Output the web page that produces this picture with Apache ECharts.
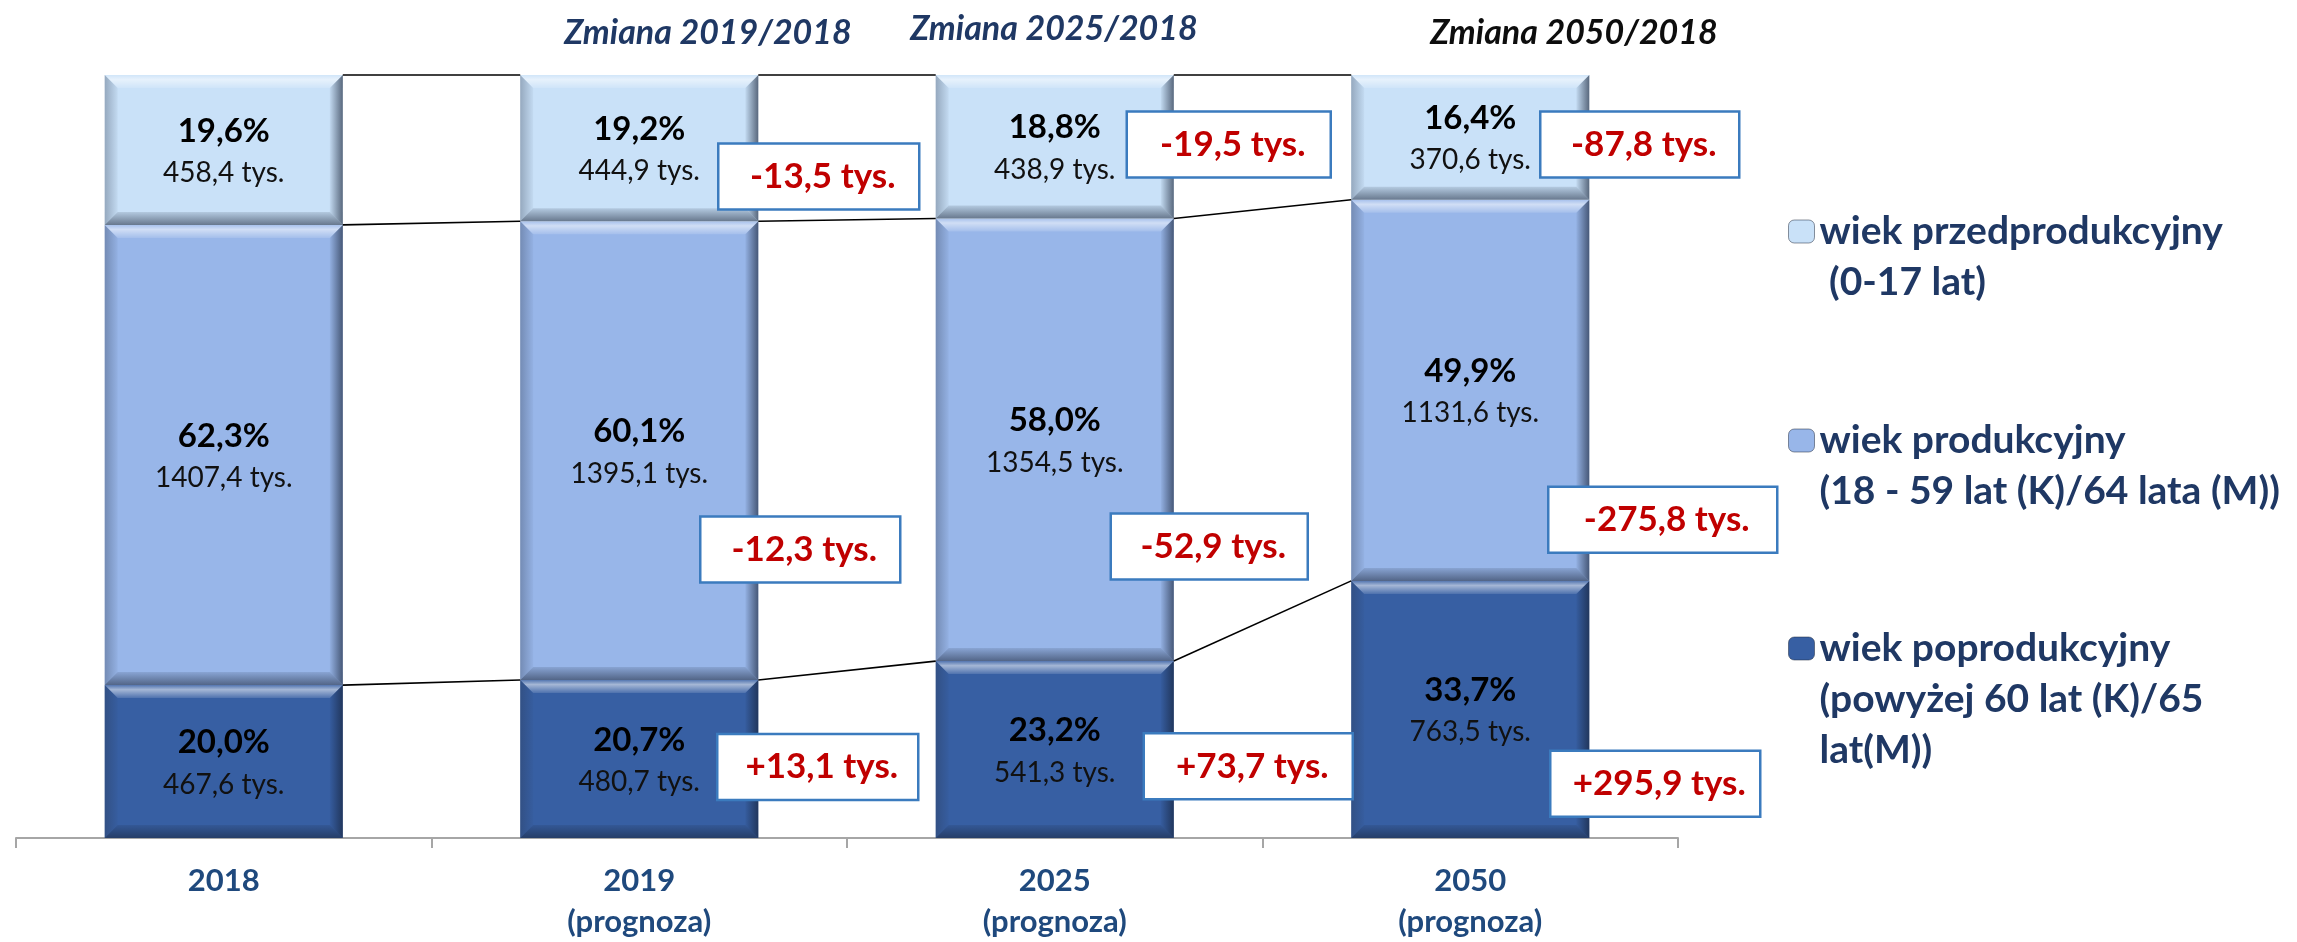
<!DOCTYPE html>
<html>
<head>
<meta charset="utf-8">
<title>Ludność według ekonomicznych grup wieku</title>
<script src="https://cdn.jsdelivr.net/npm/echarts@6/dist/echarts.min.js"></script>
<style>
  html, body { margin: 0; padding: 0; background: #fff; }
  #chart { width: 2297px; height: 942px; }
</style>
</head>
<body>
<div id="chart"></div>
<script>
// lata i podpisy osi
const years = ['2018', '2019', '2025', '2050'];
const yearLabels = ['2018', '2019\n(prognoza)', '2025\n(prognoza)', '2050\n(prognoza)'];

// liczba ludnosci w tys.
const przedTys = [458.4, 444.9, 438.9, 370.6];
const prodTys = [1407.4, 1395.1, 1354.5, 1131.6];
const poprTys = [467.6, 480.7, 541.3, 763.5];

// udzialy podpisane na wykresie (%)
const przedPct = [19.6, 19.2, 18.8, 16.4];
const prodPct = [62.3, 60.1, 58.0, 49.9];
const poprPct = [20.0, 20.7, 23.2, 33.7];

// zmiany wzgledem 2018 (tys.), dla 2019, 2025, 2050
const przedZmiana = [-13.5, -19.5, -87.8];
const prodZmiana = [-12.3, -52.9, -275.8];
const poprZmiana = [13.1, 73.7, 295.9];

const changeTitles = ['Zmiana 2019/2018', 'Zmiana 2025/2018', 'Zmiana 2050/2018'];

const FONT = 'Lato';
const BAR_RATIO = 0.573;

// polozenie ramek ze zmianami: [przesuniecie od srodka kategorii px, poziom %, szerokosc px]
const przedBox = [[79, 86.7, 201], [72, 90.9, 204], [70, 90.9, 199]];
const prodBox = [[61, 37.8, 200], [56, 38.2, 197], [78, 41.7, 229]];
const poprBox = [[78, 9.3, 201], [89, 9.4, 209], [80, 7.1, 210]];

const fmt = v => v.toFixed(1).replace('.', ',');
const fmtChange = v => (v > 0 ? '+' : '-') + fmt(Math.abs(v)) + ' tys.';

// udzialy do wysokosci slupkow (100%)
const totals = years.map((y, i) => przedTys[i] + prodTys[i] + poprTys[i]);
const share = arr => arr.map((v, i) => v / totals[i] * 100);
const przedShare = share(przedTys);
const prodShare = share(prodTys);
const poprShare = share(poprTys);

const groups = [
  {
    name: 'wiek przedprodukcyjny (0-17 lat)',
    lines: ['wiek przedprodukcyjny', ' (0-17 lat)'],
    color: '#C9E1F8', tys: przedTys, pct: przedPct, shares: przedShare,
    change: przedZmiana, box: przedBox, legendTop: 155
  },
  {
    name: 'wiek produkcyjny (18 - 59 lat (K)/64 lata (M))',
    lines: ['wiek produkcyjny', '(18 - 59 lat (K)/64 lata (M))'],
    color: '#98B6E9', tys: prodTys, pct: prodPct, shares: prodShare,
    change: prodZmiana, box: prodBox, legendTop: 364
  },
  {
    name: 'wiek poprodukcyjny (powyżej 60 lat (K)/65 lat(M))',
    lines: ['wiek poprodukcyjny', '(powyżej 60 lat (K)/65', 'lat(M))'],
    color: '#375FA3', tys: poprTys, pct: poprPct, shares: poprShare,
    change: poprZmiana, box: poprBox, legendTop: 521
  }
];

// kolejnosc w stosie: od dolu
const stackOrder = [groups[2], groups[1], groups[0]];

const chart = echarts.init(document.getElementById('chart'));

const barSeries = stackOrder.map(g => ({
  name: g.name,
  type: 'bar',
  stack: 'total',
  barWidth: (BAR_RATIO * 100) + '%',
  data: g.shares,
  itemStyle: { color: g.color },
  z: 2,
  label: {
    show: true,
    position: 'inside',
    formatter: p => '{p|' + fmt(g.pct[p.dataIndex]) + '%}\n{v|' + fmt(g.tys[p.dataIndex]) + ' tys.}',
    rich: {
      p: { fontFamily: FONT, fontWeight: 'bold', fontSize: 33, color: '#000', lineHeight: 46 },
      v: { fontFamily: FONT, fontSize: 28, color: '#111', lineHeight: 38 }
    }
  }
}));

// dane do cieniowania krawedzi: [kategoria, dol, gora]
const bevelData = [];
const levels = years.map((y, i) => [0, poprShare[i], poprShare[i] + prodShare[i], 100]);
years.forEach((y, i) => {
  for (let k = 0; k < 3; k++) bevelData.push([i, levels[i][k], levels[i][k + 1]]);
});

// linie laczace granice segmentow: [kategoria, poziom lewy, poziom prawy]
const linkData = [];
for (let i = 0; i < years.length - 1; i++) {
  for (let k = 1; k < 4; k++) linkData.push([i, levels[i][k], levels[i + 1][k]]);
}

// ramki ze zmianami
const boxData = [];
const boxText = [];
groups.forEach(g => {
  g.change.forEach((v, j) => {
    boxData.push([j + 1, g.box[j][1], g.box[j][0], g.box[j][2]]);
    boxText.push(fmtChange(v));
  });
});

const grad = (x2, y2, stops) => new echarts.graphic.LinearGradient(0, 0, x2, y2,
  stops.map(s => ({ offset: s[0], color: s[1] })));

const topGrad = grad(0, 1, [[0, 'rgba(255,255,255,0.15)'], [0.35, 'rgba(255,255,255,0.55)'], [1, 'rgba(255,255,255,0.12)']]);
const bottomGrad = grad(0, 1, [[0, 'rgba(25,35,55,0.12)'], [1, 'rgba(25,35,55,0.55)']]);
const leftGrad = grad(1, 0, [[0, 'rgba(40,50,70,0.32)'], [1, 'rgba(40,50,70,0.04)']]);
const rightGrad = grad(1, 0, [[0, 'rgba(20,30,50,0.04)'], [1, 'rgba(20,30,50,0.62)']]);

function barHalf(api) {
  return api.size([1, 0])[0] * BAR_RATIO / 2;
}

const option = {
  animation: false,
  backgroundColor: '#fff',
  grid: { left: 16, right: 619, top: 75, bottom: 99, containLabel: false },
  xAxis: {
    type: 'category',
    data: yearLabels,
    axisLine: { lineStyle: { color: '#A6A6A6', width: 2 } },
    axisTick: { show: true, length: 10, lineStyle: { color: '#A6A6A6', width: 2 } },
    axisLabel: {
      margin: 22,
      fontFamily: FONT,
      fontWeight: 'bold',
      fontSize: 31,
      lineHeight: 41,
      color: '#1F497D'
    }
  },
  yAxis: { type: 'value', min: 0, max: 100, show: false },
  legend: groups.map(g => ({
    data: [g.name],
    left: 1788,
    top: g.legendTop,
    padding: 0,
    orient: 'vertical',
    selectedMode: false,
    itemWidth: 26,
    itemHeight: 23,
    itemStyle: { borderColor: 'rgba(30,40,60,0.5)', borderWidth: 1 },
    formatter: () => '\n'.repeat(g.lines.length - 1) + g.lines.join('\n'),
    textStyle: {
      fontFamily: FONT,
      fontWeight: 'bold',
      fontSize: 39,
      lineHeight: 51,
      color: '#1F3864'
    }
  })),
  graphic: changeTitles.map((t, k) => ({
    type: 'text',
    x: [708, 1054, 1574][k],
    y: [33, 29, 33][k],
    style: {
      text: t,
      font: 'italic bold 34px ' + FONT,
      fill: k === 2 ? '#0D0D0D' : '#1F3864',
      textAlign: 'center',
      textVerticalAlign: 'middle'
    }
  })),
  series: barSeries.concat([
    {
      type: 'custom',
      name: 'bevel',
      silent: true,
      z: 3,
      data: bevelData,
      renderItem: (params, api) => {
        const i = api.value(0);
        const pb = api.coord([i, api.value(1)]);
        const pt = api.coord([i, api.value(2)]);
        const h = barHalf(api);
        const x0 = pb[0] - h, x1 = pb[0] + h, y0 = pt[1], y1 = pb[1];
        const b = Math.min(13, (y1 - y0) / 2);
        return {
          type: 'group',
          children: [
            { type: 'polygon', shape: { points: [[x0, y0], [x1, y0], [x1 - b, y0 + b], [x0 + b, y0 + b]] }, style: { fill: topGrad } },
            { type: 'polygon', shape: { points: [[x0, y1], [x1, y1], [x1 - b, y1 - b], [x0 + b, y1 - b]] }, style: { fill: bottomGrad } },
            { type: 'polygon', shape: { points: [[x0, y0], [x0 + b, y0 + b], [x0 + b, y1 - b], [x0, y1]] }, style: { fill: leftGrad } },
            { type: 'polygon', shape: { points: [[x1, y0], [x1 - b, y0 + b], [x1 - b, y1 - b], [x1, y1]] }, style: { fill: rightGrad } }
          ]
        };
      }
    },
    {
      type: 'custom',
      name: 'links',
      silent: true,
      z: 4,
      data: linkData,
      renderItem: (params, api) => {
        const i = api.value(0);
        const a = api.coord([i, api.value(1)]);
        const c = api.coord([i + 1, api.value(2)]);
        const h = barHalf(api);
        return {
          type: 'line',
          shape: { x1: a[0] + h, y1: a[1], x2: c[0] - h, y2: c[1] },
          style: { stroke: '#000', lineWidth: 1.6 }
        };
      }
    },
    {
      type: 'custom',
      name: 'zmiany',
      silent: true,
      z: 5,
      data: boxData,
      renderItem: (params, api) => {
        const c = api.coord([api.value(0), api.value(1)]);
        const x0 = c[0] + api.value(2);
        const w = api.value(3);
        return {
          type: 'group',
          children: [
            {
              type: 'rect',
              shape: { x: x0, y: c[1] - 33, width: w, height: 66 },
              style: { fill: '#fff', stroke: '#3B7BBE', lineWidth: 2.5 }
            },
            {
              type: 'text',
              x: x0 + w / 2 + 4,
              y: c[1],
              style: {
                text: boxText[params.dataIndex],
                fill: '#C00000',
                font: 'bold 35px ' + FONT,
                align: 'center',
                verticalAlign: 'middle',
                textAlign: 'center',
                textVerticalAlign: 'middle'
              }
            }
          ]
        };
      }
    }
  ])
};

chart.setOption(option);
</script>
</body>
</html>
